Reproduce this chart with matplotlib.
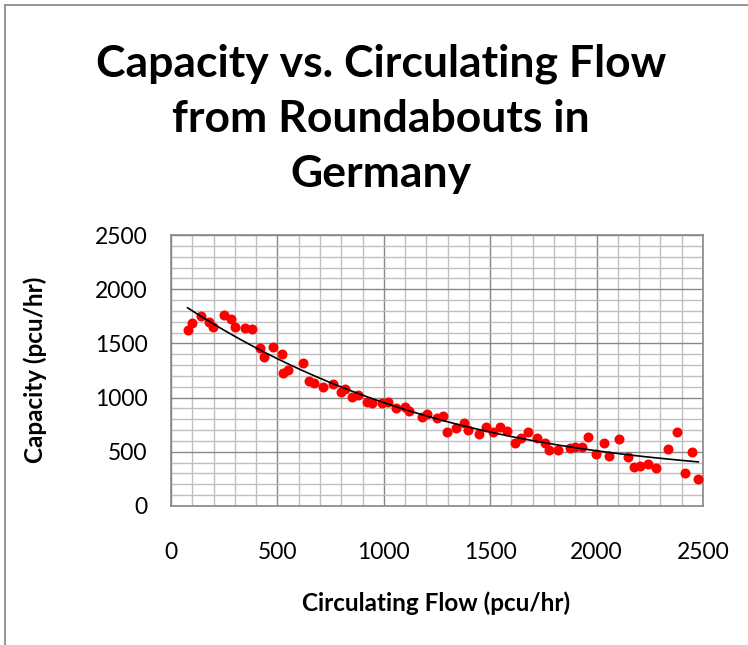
import numpy as np
import matplotlib.pyplot as plt
from matplotlib.lines import Line2D
from matplotlib.ticker import MultipleLocator

# Data
circulating_flow = [78, 100, 139, 180, 199, 249, 280, 301, 349, 382,
                    418, 439, 481, 520, 528, 548, 619, 650, 672, 716,
                    760, 799, 819, 849, 880, 919, 946, 993, 1021, 1057,
                    1100, 1120, 1178, 1201, 1248, 1280, 1299, 1338, 1378, 1397,
                    1446, 1479, 1515, 1546, 1581, 1617, 1643, 1676, 1718, 1758,
                    1778, 1817, 1875, 1899, 1933, 1958, 1997, 2036, 2058, 2107,
                    2146, 2177, 2204, 2240, 2278, 2337, 2376, 2417, 2448, 2478]
capacity = [1624, 1685, 1753, 1700, 1648, 1762, 1722, 1648, 1645, 1633,
            1454, 1378, 1464, 1399, 1230, 1255, 1322, 1153, 1138, 1101,
            1125, 1055, 1076, 1002, 1027, 962, 947, 947, 962, 901,
            910, 879, 824, 849, 815, 830, 686, 720, 769, 701,
            664, 726, 686, 732, 692, 584, 624, 686, 624, 584,
            517, 517, 532, 547, 541, 640, 480, 584, 461, 621,
            449, 363, 372, 384, 354, 523, 683, 301, 501, 246]

x_ticks = [0, 500, 1000, 1500, 2000, 2500]
y_ticks = [0, 500, 1000, 1500, 2000, 2500]

title_text = 'Capacity vs. Circulating Flow\nfrom Roundabouts in\nGermany'
x_label = 'Circulating Flow (pcu/hr)'
y_label = 'Capacity (pcu/hr)'

plt.rcParams['font.family'] = ['Lato', 'DejaVu Sans']

fig = plt.figure(figsize=(7.48, 6.45), dpi=100)
ax = fig.add_axes([171 / 748, 1 - 506 / 645, 532 / 748, 271 / 645])

# Excel-like grid: light minor lines every 100, darker major every 500
ax.set_xlim(0, 2500)
ax.set_ylim(0, 2500)
ax.xaxis.set_major_locator(MultipleLocator(500))
ax.yaxis.set_major_locator(MultipleLocator(500))
ax.xaxis.set_minor_locator(MultipleLocator(100))
ax.yaxis.set_minor_locator(MultipleLocator(100))
ax.grid(which='minor', color='#bfbfbf', linewidth=1.0)
ax.grid(which='major', color='#878787', linewidth=1.0)
ax.set_axisbelow(True)
for spine in ax.spines.values():
    spine.set_color('#878787')
    spine.set_linewidth(1.2)

ax.set_xticks(x_ticks)
ax.set_yticks(y_ticks)
ax.tick_params(which='both', length=0)
ax.tick_params(axis='x', labelsize=16.5, pad=26)
ax.tick_params(axis='y', labelsize=16.5, pad=17)

# Points and polynomial trendline
ax.scatter(circulating_flow, capacity, s=52, color='#ff0000', zorder=3, linewidths=0)
coef = np.polyfit(circulating_flow, capacity, 3)
xs = np.linspace(min(circulating_flow), max(circulating_flow), 200)
ax.plot(xs, np.polyval(coef, xs), color='black', linewidth=1.2, zorder=4)

fig.text(381 / 748, 1 - 119 / 645, title_text, ha='center', va='center',
         fontsize=32, fontweight='bold', linespacing=1.45)
fig.text(436 / 748, 1 - 603 / 645, x_label, ha='center', va='center',
         fontsize=17.5, fontweight='bold')
fig.text(35 / 748, 1 - 370 / 645, y_label, ha='center', va='center',
         fontsize=17.5, fontweight='bold', rotation=90)

# chart-area border (left and top edges visible in the crop)
fig.add_artist(Line2D([4.5 / 748, 4.5 / 748], [0, 1 - 5 / 645], color='#8c8c8c', linewidth=1.3))
fig.add_artist(Line2D([4.5 / 748, 1], [1 - 5 / 645, 1 - 5 / 645], color='#8c8c8c', linewidth=1.3))

fig.savefig('out.png', dpi=100)
